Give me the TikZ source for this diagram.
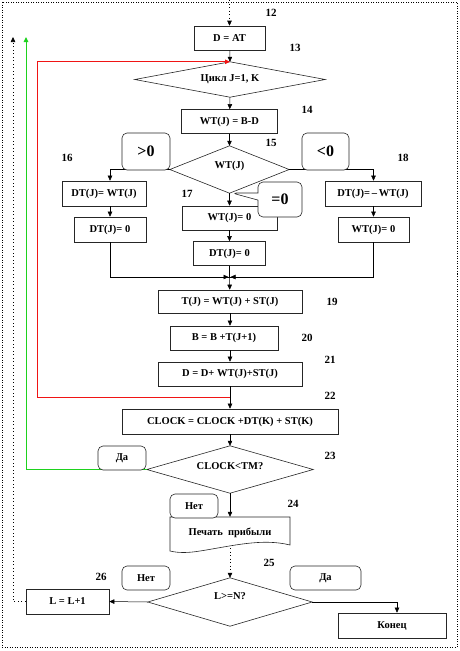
\documentclass[tikz,border=0pt]{standalone}
\usepackage{fontspec}
\setmainfont{Liberation Serif}
\usetikzlibrary{arrows.meta,shapes.callouts,calc}
\definecolor{loopred}{RGB}{240,20,20}
\definecolor{loopgreen}{RGB}{30,210,30}
\newcommand\diapoly[1]{\draw[line width=0.6pt, draw=black!85] (#1.north) -- (#1.east) -- (#1.south) -- (#1.west) -- cycle;}
\begin{document}
\begin{tikzpicture}[x=1pt,y=-1pt,
  every node/.style={font=\fontsize{10.5}{12}\selectfont\bfseries, inner sep=0pt},
  box/.style={draw=black!85, line width=0.6pt, fill=white, minimum height=24pt},
  dia/.style={rectangle},
  lab/.style={font=\fontsize{11}{12}\selectfont\bfseries},
  tag/.style={draw=black!85, rounded corners=5pt, line width=0.6pt, fill=white, minimum height=24pt, minimum width=48pt},
  big/.style={font=\fontsize{16}{18}\selectfont\bfseries},
  arr/.style={-{Triangle[length=5pt,width=4.5pt]}, line width=0.5pt},
  con/.style={line width=0.5pt},
  dotc/.style={line width=0.6pt, dash pattern=on 1pt off 2.5pt}
]
\useasboundingbox (0,0) rectangle (460,651);
\draw[line width=0.6pt, dash pattern=on 1pt off 1.5pt] (2,2) rectangle (457,647);

% nodes
\coordinate (top) at (229.5,0);
\node[box, minimum width=71pt] (b12) at (229.5,38) {D = AT};
\node[dia, minimum width=190pt, minimum height=35pt] (d13) at (230,79.5) {Цикл J=1, K};
\diapoly{d13}
\node[box, minimum width=96pt] (b14) at (229.5,121.5) {WT(J) = B-D};
\node[dia, minimum width=119pt, minimum height=47pt] (d15) at (229.5,169.5) {};
\node at (229.5,166) {WT(J)};
\diapoly{d15}
\node[box, minimum width=84pt, minimum height=25pt] (b16a) at (104,193.5) {DT(J)= WT(J)};
\node[box, minimum width=72pt, minimum height=25pt] (b16b) at (110,229.5) {DT(J)= 0};
\node[box, minimum width=95pt] (b17a) at (229.5,218) {WT(J)= 0};
\node[box, minimum width=72pt] (b17b) at (229.5,253.5) {DT(J)= 0};
\node[box, minimum width=96pt, minimum height=25pt] (b18a) at (373,193.5) {DT(J)=\,--\,WT(J)};
\node[box, minimum width=71pt, minimum height=25pt] (b18b) at (373.5,229.5) {WT(J)= 0};
\coordinate (m) at (229.5,277);
\node[box, minimum width=144pt, minimum height=23pt] (b19) at (230,301.5) {T(J) = WT(J) + ST(J)};
\node[box, minimum width=108pt] (b20) at (224,338) {B = B +T(J+1)};
\node[box, minimum width=144pt] (b21) at (230,374) {D = D+ WT(J)+ST(J)};
\coordinate (r1) at (229.5,397);
\node[box, minimum width=216pt, minimum height=25pt] (b22) at (230,421.5) {CLOCK = CLOCK +DT(K) + ST(K)};
\node[dia, minimum width=166pt, minimum height=47pt] (d23) at (230,469.5) {};
\node at (230,466) {CLOCK<TM?};
\diapoly{d23}
\node[minimum width=120pt, minimum height=31pt] (p24) at (230,532.5) {Печать\ \ прибыли};
\draw[line width=0.6pt, draw=black!85] (170,517) -- (290,517) -- (290,545)
   .. controls (262,538) and (232,546) .. (200,551) .. controls (188,553) and (178,553) .. (170,551) -- cycle;
\node[dia, minimum width=164pt, minimum height=48pt] (d25) at (230,602) {};
\node at (230,596) {L>=N?};
\diapoly{d25}
\node[box, minimum width=83pt, minimum height=25pt] (b26) at (67.5,601.5) {L = L+1};
\node[box, minimum width=108pt, minimum height=25pt] (b27) at (392,625.5) {Конец};

\coordinate (rx) at (37,0);
\coordinate (gx) at (26,0);
\coordinate (kx) at (13,0);
\coordinate (atop) at (0,37);

% connectors
\draw[arr, dotc] (top) -- (b12);
\draw[arr] (b12) -- (d13.north);
\draw[arr] (d13.south) -- (b14);
\draw[arr] (b14) -- (d15.north);
\draw[arr] (d15.west) -| (b16a.north -| b16b);
\draw[arr] (b16a.south -| b16b) -- (b16b);
\draw[con] (b16b.south) |- (m);
\draw[arr] (b16b.south |- m) -- ([xshift=-1pt]m);
\draw[arr] (d15.east) -| (b18a.north -| b18b);
\draw[arr] (b18a.south -| b18b) -- (b18b);
\draw[con] (b18b.south) |- (m);
\draw[arr] (b18b.south |- m) -- ([xshift=1pt]m);
\draw[arr] (d15.south) -- (b17a);
\draw[arr] (b17a) -- (b17b);
\draw[con] (b17b) -- (m);
\draw[arr] (m) -- (b19);
\draw[arr] (b19) -- (b20.north -| b19);
\draw[arr] (b20.south -| b21) -- (b21);
\draw[arr] (b21) -- (b22);
\draw[arr] (b22) -- (d23.north);
\draw[arr] (d23.south) -- (p24);
\draw[arr, dotc] (p24.south) -- (d25.north);
\draw[arr] (d25.west) -- (b26.east);
\draw[arr] (d25.east) -| ([xshift=5pt]b27.north);

% loop-back lines
\draw[arr, color=loopred, line width=1pt] (r1) -- (r1 -| rx) -- (rx |- d13.north) -- (d13.north);
\draw[arr, color=loopgreen, line width=1pt] (d23.west) -- (d23.west -| gx) -- (gx |- atop);
\draw[arr, dotc] (b26.west) -- (b26.west -| kx) -- (kx |- atop);

% callouts
\node[tag, big, minimum width=48pt, minimum height=37pt] (c1) at (146,151.5) {>0};
\node[tag, big, minimum width=47pt, minimum height=37pt] (c2) at (325.5,151.5) {<0};
\node[rectangle callout, draw=black!85, line width=0.6pt, fill=white, rounded corners=5pt,
      minimum width=44pt, minimum height=35pt, big, callout absolute pointer={(232,193)}] (c3) at (280,199.5) {=0};
\node[tag] (c4) at (122,458) {Да};
\node[tag] (c5) at (194,506) {Нет};
\node[tag] (c6) at (146,578) {Нет};
\node[tag, minimum width=71pt] (c7) at (325.5,578) {Да};

% numbers
\node[lab] (n12) at (271,13) {12};
\node[lab] (n13) at (295,48) {13};
\node[lab] (n14) at (307,110) {14};
\node[lab] (n15) at (271,143) {15};
\node[lab] (n16) at (67,158) {16};
\node[lab] (n17) at (187,194) {17};
\node[lab] (n18) at (403,158) {18};
\node[lab] (n19) at (332,302) {19};
\node[lab] (n20) at (307,338) {20};
\node[lab] (n21) at (330,360) {21};
\node[lab] (n22) at (330,396) {22};
\node[lab] (n23) at (330,456) {23};
\node[lab] (n24) at (293,504) {24};
\node[lab] (n25) at (269,563) {25};
\node[lab] (n26) at (101,577) {26};
\end{tikzpicture}
\end{document}
